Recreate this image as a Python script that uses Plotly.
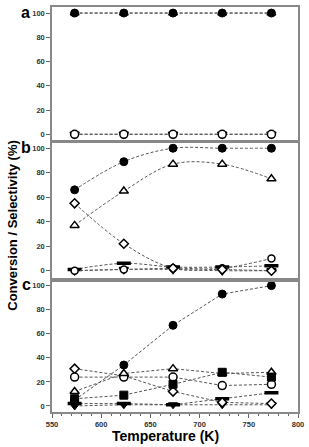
import plotly.graph_objects as go
from plotly.subplots import make_subplots

temps = [573, 623, 673, 723, 773]

# Panel a
a_conv = [100, 100, 100, 100, 100]
a_sel_tri = [100, 100, 100, 100, 100]
a_open_circ = [0, 0, 0, 0, 0]
a_inv_tri = [0, 0, 0, 0, 0]

# Panel b
b_conv = [66, 89, 100, 100, 100]
b_tri = [37, 65, 87, 87, 75]
b_diam = [55, 22, 2, 1, 0]
b_circ = [0, 1, 2, 2, 10]
b_bar = [1, 6, 3, 3, 4]
b_inv_tri = [0, 1, 1, 0, 0]

# Panel c
c_conv = [5, 34, 67, 93, 100]
c_diam = [31, 25, 12, 3, 2]
c_circ = [24, 24, 24, 17, 18]
c_tri = [12, 27, 31, 27, 28]
c_sq = [6, 9, 18, 28, 24]
c_bar = [2, 2, 1, 6, 11]
c_inv_tri = [0, 1, 1, 1, 1]

fig = make_subplots(rows=3, cols=1, shared_xaxes=False)

LINE = dict(color="#555555", width=1, dash="3px,2px")


def add(row, y, symbol, filled, shape="linear", size=8):
    if symbol == "line-ew":
        mk = dict(symbol=symbol, size=size, color="black", line=dict(color="black", width=3.5))
    elif filled:
        mk = dict(symbol=symbol, size=size, color="black", line=dict(color="black", width=1))
    else:
        mk = dict(symbol=symbol, size=size, color="white", line=dict(color="black", width=1.5))
    fig.add_trace(go.Scatter(x=temps, y=y, mode="lines+markers", line=dict(shape=shape, **LINE),
                             marker=mk, showlegend=False), row=row, col=1)


# a
add(1, a_sel_tri, "triangle-up", True)
add(1, a_conv, "circle", True)
add(1, a_inv_tri, "triangle-down", False)
add(1, a_open_circ, "circle", False)

# b
add(2, b_inv_tri, "triangle-down", False, "spline")
add(2, b_bar, "line-ew", False, "spline", 10)
add(2, b_circ, "circle", False, "spline", 7)
add(2, b_diam, "diamond", False, "spline", 7)
add(2, b_tri, "triangle-up", False, "spline")
add(2, b_conv, "circle", True, "spline")

# c
add(3, c_inv_tri, "triangle-down", True)
add(3, c_bar, "line-ew", False, "linear", 10)
add(3, c_diam, "diamond", False, "linear", 7)
add(3, c_circ, "circle", False)
add(3, c_tri, "triangle-up", False)
add(3, c_sq, "square", True)
add(3, c_conv, "circle", True)

H = 447
top_px, bot_px = 5, 35
ph = H - top_px - bot_px


def dom(t, b):
    return [(H - bot_px - b) / ph, (H - bot_px - t) / ph]


domains = [dom(5, 139), dom(142, 277), dom(281, 412)]
ranges = [[-5, 105], [-5.7, 104], [-5, 103.3]]

tickfont = dict(family="Liberation Sans, Arial, sans-serif", size=7.5, color="#333333", weight="bold")
for i in range(3):
    yname = "yaxis" if i == 0 else f"yaxis{i+1}"
    xname = "xaxis" if i == 0 else f"xaxis{i+1}"
    fig.layout[yname].update(domain=domains[i], range=ranges[i], tickvals=[0, 20, 40, 60, 80, 100],
                             ticks="outside", ticklen=4, tickcolor="#666", tickfont=tickfont,
                             showgrid=False, zeroline=False, showline=True, mirror=True,
                             linecolor="#888888", linewidth=1.5)
    fig.layout[xname].update(range=[550, 800], showgrid=False, zeroline=False, showline=True,
                             mirror=True, linecolor="#888888", linewidth=1.5,
                             showticklabels=(i == 2), ticks="outside" if i == 2 else "",
                             tickvals=[550, 600, 650, 700, 750, 800], ticklen=4, tickcolor="#666",
                             tickfont=tickfont)
fig.layout.xaxis3.update(minor=dict(ticks="outside", ticklen=2, dtick=10, tickcolor="#666"))

annots = [
    dict(text="<b>Temperature (K)</b>", x=168, y=436, font=dict(size=14)),
    dict(text="<b>Conversion / Selectivity (%)</b>", x=12, y=224, font=dict(size=13), textangle=-90),
    dict(text="<b>a</b>", x=25, y=11, font=dict(size=16)),
    dict(text="<b>b</b>", x=25, y=146, font=dict(size=16)),
    dict(text="<b>c</b>", x=26, y=284, font=dict(size=16)),
]
L, R = 52, 6
pw = 309 - L - R
for a in annots:
    fig.add_annotation(text=a["text"], xref="paper", yref="paper",
                       x=(a["x"] - L) / pw, y=(H - bot_px - a["y"]) / ph,
                       showarrow=False, xanchor="center", yanchor="middle",
                       textangle=a.get("textangle", 0),
                       font=dict(family="Liberation Sans, Arial, sans-serif", color="black", **a["font"]))

fig.update_layout(width=309, height=447, margin=dict(l=L, r=R, t=top_px, b=bot_px),
                  plot_bgcolor="white", paper_bgcolor="white", showlegend=False)

fig.write_html("out.html")
